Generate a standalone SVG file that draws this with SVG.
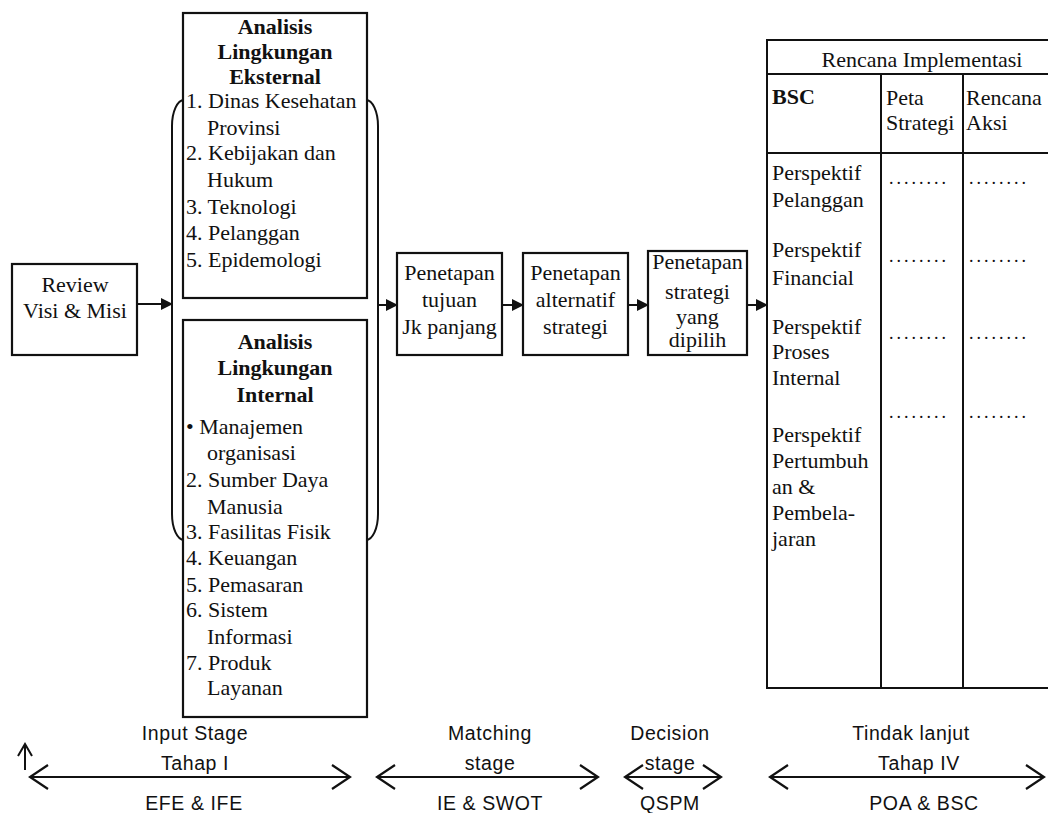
<svg xmlns="http://www.w3.org/2000/svg" width="1048" height="813" viewBox="0 0 1048 813">
<defs>
<style>
.box{fill:#fff;stroke:#111;stroke-width:2.2}
.ln{fill:none;stroke:#111;stroke-width:2}
.t{font-family:"Liberation Serif","Times New Roman",serif;font-size:22px;fill:#111}
.b{font-weight:bold}
.c{text-anchor:middle}
.s{font-family:"Liberation Sans",Arial,sans-serif;font-size:19.5px;fill:#111;text-anchor:middle;letter-spacing:0.6px}
.d{font-family:"Liberation Serif",serif;font-size:18px;fill:#111;letter-spacing:3px}
</style>
<marker id="fa" markerWidth="12" markerHeight="12" refX="11" refY="6" orient="auto" markerUnits="userSpaceOnUse">
<path d="M0,0 L12,6 L0,12 Z" fill="#111"/>
</marker>
<marker id="oa" markerWidth="24" markerHeight="28" refX="22" refY="14" orient="auto-start-reverse" markerUnits="userSpaceOnUse">
<path d="M4,2 L22,14 L4,26" fill="none" stroke="#111" stroke-width="2.2"/>
</marker>
<marker id="oas" markerWidth="16" markerHeight="16" refX="14" refY="8" orient="auto" markerUnits="userSpaceOnUse">
<path d="M2,1 L14,8 L2,15" fill="none" stroke="#111" stroke-width="2"/>
</marker>
</defs>
<rect width="1048" height="813" fill="#fff"/>

<g id="bracket">
<rect x="172" y="100" width="206" height="440" rx="12" ry="26" class="ln"/>
</g>

<g id="connectors">
<line x1="137" y1="304" x2="172" y2="304" class="ln" marker-end="url(#fa)"/>
<line x1="378" y1="305" x2="397" y2="305" class="ln" marker-end="url(#fa)"/>
<line x1="502" y1="305" x2="523" y2="305" class="ln" marker-end="url(#fa)"/>
<line x1="628" y1="305" x2="648" y2="305" class="ln" marker-end="url(#fa)"/>
<line x1="747" y1="305" x2="767" y2="305" class="ln" marker-end="url(#fa)"/>
</g>

<g id="review">
<rect x="12" y="264" width="125" height="91" class="box"/>
<text class="t c" x="75" y="292">Review</text>
<text class="t c" x="75" y="318">Visi &amp; Misi</text>
</g>

<g id="eksternal">
<rect x="183" y="13" width="184" height="285" class="box"/>
<text class="t b c" x="275" y="34">Analisis</text>
<text class="t b c" x="275" y="59">Lingkungan</text>
<text class="t b c" x="275" y="84">Eksternal</text>
<text class="t" x="186" y="108">1. Dinas Kesehatan</text>
<text class="t" x="207" y="135">Provinsi</text>
<text class="t" x="186" y="160">2. Kebijakan dan</text>
<text class="t" x="207" y="187">Hukum</text>
<text class="t" x="186" y="214">3. Teknologi</text>
<text class="t" x="186" y="240">4. Pelanggan</text>
<text class="t" x="186" y="267">5. Epidemologi</text>
</g>

<g id="internal">
<rect x="183" y="320" width="184" height="397" class="box"/>
<text class="t b c" x="275" y="349">Analisis</text>
<text class="t b c" x="275" y="375">Lingkungan</text>
<text class="t b c" x="275" y="402">Internal</text>
<text class="t" x="186" y="434">• Manajemen</text>
<text class="t" x="207" y="460">organisasi</text>
<text class="t" x="186" y="487">2. Sumber Daya</text>
<text class="t" x="207" y="514">Manusia</text>
<text class="t" x="186" y="539">3. Fasilitas Fisik</text>
<text class="t" x="186" y="565">4. Keuangan</text>
<text class="t" x="186" y="592">5. Pemasaran</text>
<text class="t" x="186" y="617">6. Sistem</text>
<text class="t" x="207" y="644">Informasi</text>
<text class="t" x="186" y="670">7. Produk</text>
<text class="t" x="207" y="695">Layanan</text>
</g>

<g id="tujuan">
<rect x="397" y="253" width="105" height="102" class="box"/>
<text class="t c" x="449.5" y="280">Penetapan</text>
<text class="t c" x="449.5" y="307">tujuan</text>
<text class="t c" x="449.5" y="334">Jk panjang</text>
</g>

<g id="alternatif">
<rect x="523" y="253" width="105" height="102" class="box"/>
<text class="t c" x="575.5" y="280">Penetapan</text>
<text class="t c" x="575.5" y="307">alternatif</text>
<text class="t c" x="575.5" y="334">strategi</text>
</g>

<g id="dipilih">
<rect x="648" y="251" width="99" height="104" class="box"/>
<text class="t c" x="697.5" y="269">Penetapan</text>
<text class="t c" x="697.5" y="299">strategi</text>
<text class="t c" x="697.5" y="324">yang</text>
<text class="t c" x="697.5" y="347">dipilih</text>
</g>

<g id="rencana">
<path d="M1048,40 L767,40 L767,688 L1048,688" class="ln"/>
<line x1="767" y1="74" x2="1048" y2="74" class="ln"/>
<line x1="767" y1="153" x2="1048" y2="153" class="ln"/>
<line x1="881" y1="74" x2="881" y2="688" class="ln"/>
<line x1="963" y1="74" x2="963" y2="688" class="ln"/>
<text class="t c" x="922" y="67">Rencana Implementasi</text>
<text class="t b" x="772" y="104">BSC</text>
<text class="t" x="886" y="105">Peta</text>
<text class="t" x="886" y="130">Strategi</text>
<text class="t" x="966" y="105">Rencana</text>
<text class="t" x="966" y="130">Aksi</text>
<text class="t" x="772" y="180">Perspektif</text>
<text class="t" x="772" y="207">Pelanggan</text>
<text class="t" x="772" y="257">Perspektif</text>
<text class="t" x="772" y="285">Financial</text>
<text class="t" x="772" y="334">Perspektif</text>
<text class="t" x="772" y="359">Proses</text>
<text class="t" x="772" y="385">Internal</text>
<text class="t" x="772" y="442">Perspektif</text>
<text class="t" x="772" y="468">Pertumbuh</text>
<text class="t" x="772" y="494">an &amp;</text>
<text class="t" x="772" y="520">Pembela-</text>
<text class="t" x="772" y="546">jaran</text>
<text class="d" x="889" y="184">........</text>
<text class="d" x="969" y="184">........</text>
<text class="d" x="889" y="262">........</text>
<text class="d" x="969" y="262">........</text>
<text class="d" x="889" y="339">........</text>
<text class="d" x="969" y="339">........</text>
<text class="d" x="889" y="418">........</text>
<text class="d" x="969" y="418">........</text>
</g>

<g id="stages">
<line x1="25" y1="770" x2="25" y2="744" class="ln" marker-end="url(#oas)"/>
<line x1="30" y1="777" x2="350" y2="777" class="ln" marker-start="url(#oa)" marker-end="url(#oa)"/>
<line x1="377" y1="777" x2="598" y2="777" class="ln" marker-start="url(#oa)" marker-end="url(#oa)"/>
<line x1="625" y1="777" x2="721" y2="777" class="ln" marker-start="url(#oa)" marker-end="url(#oa)"/>
<line x1="770" y1="777" x2="1044" y2="777" class="ln" marker-start="url(#oa)" marker-end="url(#oa)"/>
<text class="s" x="195" y="740">Input Stage</text>
<text class="s" x="195" y="770">Tahap I</text>
<text class="s" x="194" y="810">EFE &amp; IFE</text>
<text class="s" x="490" y="740">Matching</text>
<text class="s" x="490" y="770">stage</text>
<text class="s" x="490" y="810">IE &amp; SWOT</text>
<text class="s" x="670" y="740">Decision</text>
<text class="s" x="670" y="770">stage</text>
<text class="s" x="670" y="810">QSPM</text>
<text class="s" x="911" y="740">Tindak lanjut</text>
<text class="s" x="919" y="770">Tahap IV</text>
<text class="s" x="924" y="810">POA &amp; BSC</text>
</g>
</svg>
